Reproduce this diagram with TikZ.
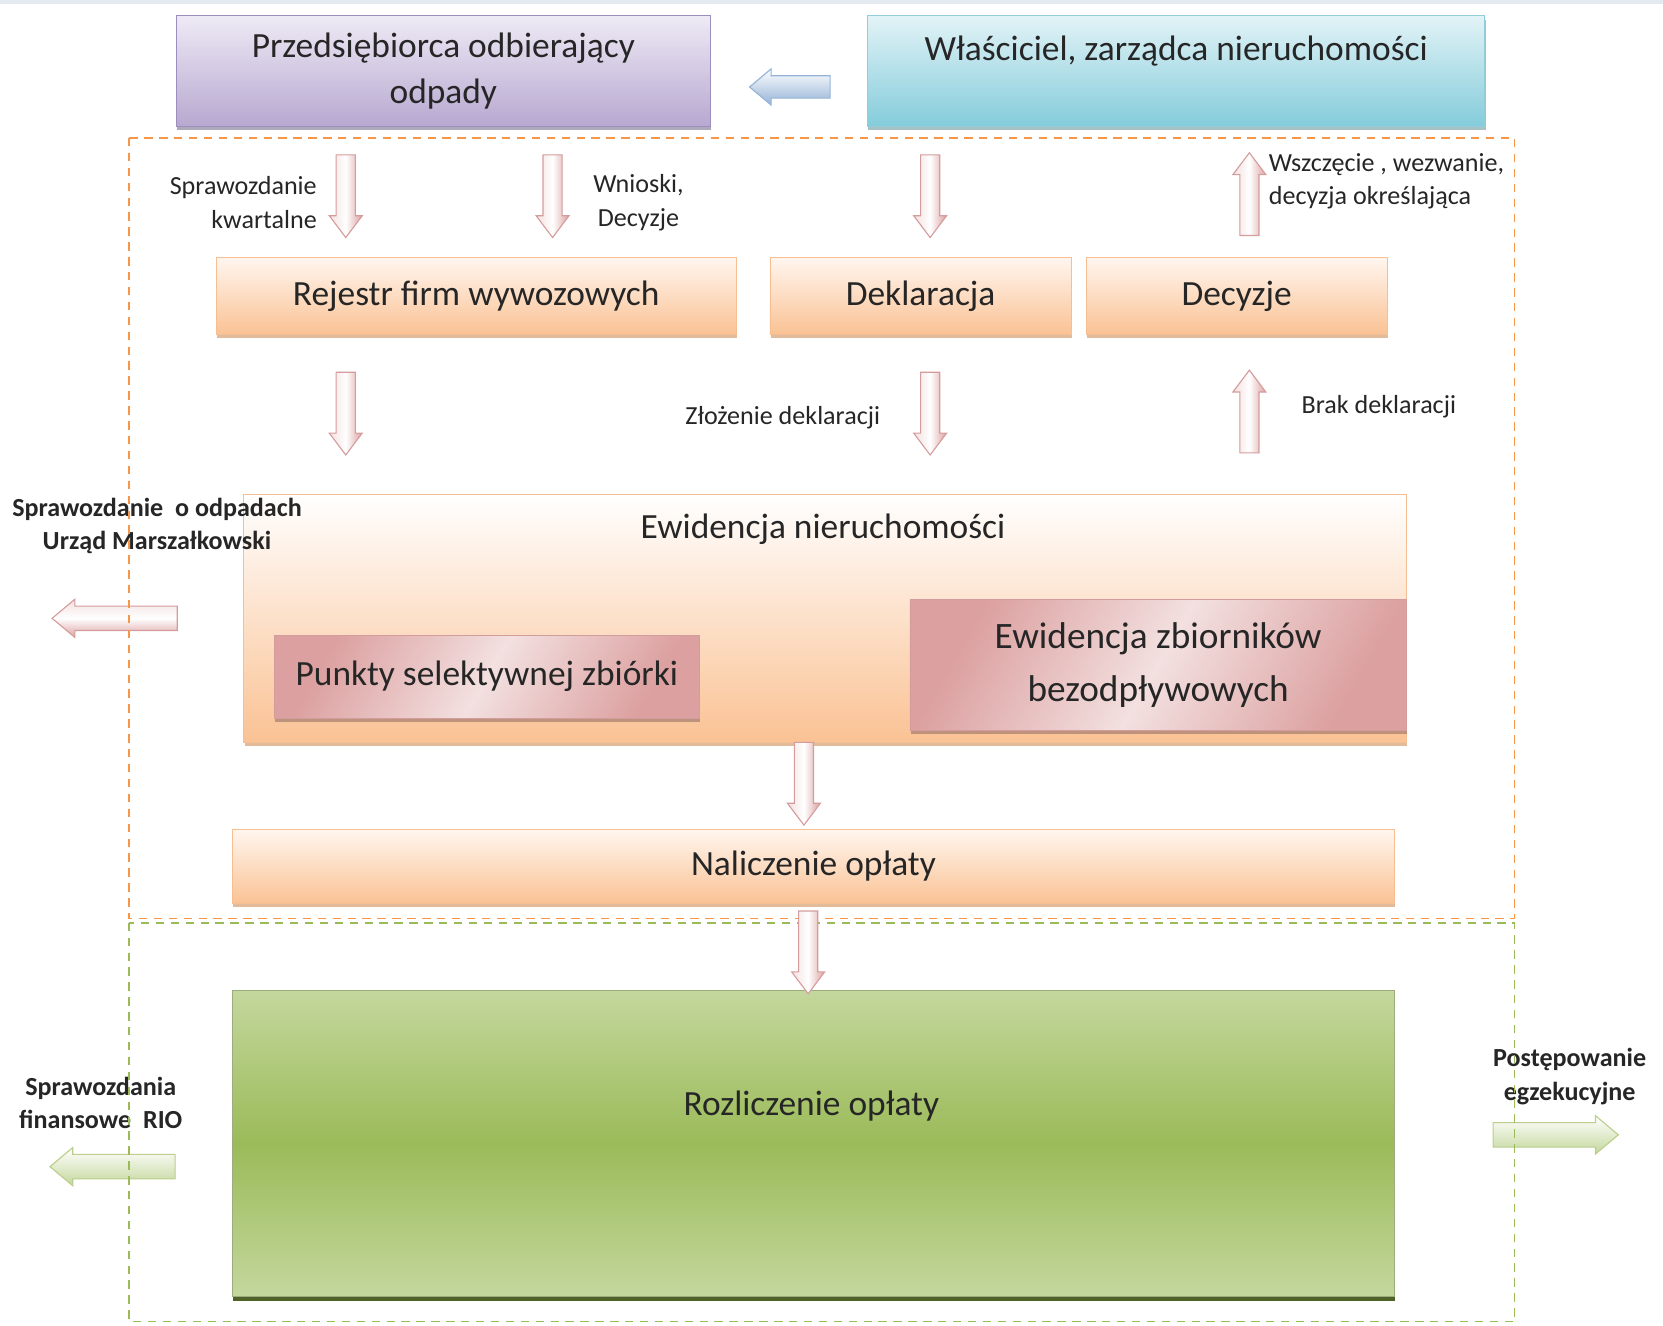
\documentclass[tikz,border=0pt]{standalone}
\usepackage{fontspec}
\setmainfont{Carlito}
\usetikzlibrary{shapes.arrows,shadows}

\definecolor{tekst}{HTML}{262626}
\definecolor{lawenda}{HTML}{B7A8D0}
\definecolor{lawendajasna}{HTML}{EEEAF5}
\definecolor{lawendaramka}{HTML}{9C8EBE}
\definecolor{turkus}{HTML}{84CCDA}
\definecolor{turkusjasny}{HTML}{E2F3F7}
\definecolor{turkusramka}{HTML}{92CDDC}
\definecolor{brzoskwinia}{HTML}{FAC294}
\definecolor{brzoskwiniajasna}{HTML}{FFF6EF}
\definecolor{brzoskwiniaramka}{HTML}{F5BE93}
\definecolor{roz}{HTML}{DCA0A0}
\definecolor{rozjasny}{HTML}{F3E0E0}
\definecolor{rozramka}{HTML}{D49C9C}
\definecolor{ziel}{HTML}{9BBB59}
\definecolor{zieljasna}{HTML}{C4D79D}
\definecolor{zielciemna}{HTML}{4F6228}
\definecolor{pomarancz}{HTML}{F79646}
\definecolor{niebieski}{HTML}{95B3D7}
\definecolor{pasek}{HTML}{E4EAF0}

\def\px{0.02cm}

\begin{document}
\begin{tikzpicture}[x=\px, y=-\px]
    \tikzstyle{box}=[rectangle, draw, line width=0.5pt, inner sep=0pt, align=center,
    	text=tekst, font=\fontsize{19}{25}\selectfont]
    \tikzstyle{fiolet box}=[box, draw=lawendaramka, top color=lawendajasna, bottom color=lawenda,
    	drop shadow={fill=lawendaramka!70!black, shadow xshift=0.4pt, shadow yshift=-2pt, opacity=0.55}]
    \tikzstyle{turkus box}=[box, draw=turkusramka, top color=turkusjasny, bottom color=turkus,
    	drop shadow={fill=turkus!70!black, shadow xshift=0.4pt, shadow yshift=-2pt, opacity=0.55}]
    \tikzstyle{pomarancz box}=[box, draw=brzoskwiniaramka, top color=brzoskwiniajasna, bottom color=brzoskwinia,
    	drop shadow={fill=pomarancz!80!black, shadow xshift=0.4pt, shadow yshift=-2pt, opacity=0.5}]
    \tikzstyle{roz box}=[box, draw=rozramka, left color=roz, right color=roz, middle color=rozjasny, shading angle=60,
    	drop shadow={fill=roz!60!black, shadow xshift=0.4pt, shadow yshift=-2pt, opacity=0.5}]
    \tikzstyle{ziel box}=[box, draw=zieljasna!80!black, top color=zieljasna, bottom color=zieljasna, middle color=ziel,
    	drop shadow={fill=zielciemna, shadow xshift=0.3pt, shadow yshift=-2.5pt, opacity=1}]
    \tikzstyle{napis}=[text=tekst, font=\fontsize{19}{25}\selectfont, inner sep=0pt]
    \tikzstyle{opis}=[text=tekst, font=\fontsize{14}{18}\selectfont, align=center, inner sep=0pt]
    \tikzstyle{opis pogrub}=[opis, font=\bfseries\fontsize{14}{18}\selectfont]
    \tikzstyle{strzalka}=[single arrow, draw=rozramka, line width=0.6pt, inner sep=0.17cm,
    	single arrow head extend=0.13cm, single arrow tip angle=74, minimum height=78*\px]
    \tikzstyle{w dol}=[strzalka, shape border rotate=270, left color=rozjasny, right color=roz, middle color=white]
    \tikzstyle{w gore}=[strzalka, shape border rotate=90, left color=rozjasny, right color=roz, middle color=white]
    \tikzstyle{boczna}=[single arrow, line width=0.6pt, inner sep=0.22cm,
    	single arrow head extend=0.13cm, single arrow tip angle=80, minimum height=118*\px]
    \tikzstyle{ramka}=[line width=1pt, dash pattern=on 4.5pt off 3.5pt]

    \useasboundingbox (0,0) rectangle (1568,1250);
    \fill[pasek] (0,0) rectangle (1568,4);

    % Gorny wiersz
    \node[fiolet box, minimum width=504*\px, minimum height=104*\px] (przed) at (418,67)
    	{Przedsiębiorca odbierający\\odpady};
    \node[turkus box, minimum width=582*\px, minimum height=104*\px] (wlasc) at (1109,67)
    	{Właściciel, zarządca nieruchomości\\\mbox{}};
    \node[boczna, shape border rotate=180, minimum height=76*\px, inner sep=0.2cm, draw=niebieski,
    	top color=white, bottom color=niebieski] (s0) at (751,82) {};

    % Rejestr, deklaracja, decyzje
    \node[pomarancz box, minimum width=490*\px, minimum height=73*\px] (rejestr) at (449,279) {Rejestr firm wywozowych};
    \node[pomarancz box, minimum width=284*\px, minimum height=73*\px] (deklar) at (868,279) {Deklaracja};
    \node[pomarancz box, minimum width=284*\px, minimum height=73*\px] (decyzje) at (1166,279) {Decyzje};

    % Ewidencja nieruchomosci z dwoma polami w srodku
    \node[box, minimum width=1096*\px, minimum height=234*\px, draw=brzoskwiniaramka, top color=white,
    	bottom color=brzoskwinia, drop shadow={fill=pomarancz!80!black, shadow xshift=0.4pt,
    	shadow yshift=-2pt, opacity=0.5}] (ewid) at (778,583) {};
    \node[napis] (ewid-t) at (776,499) {Ewidencja nieruchomości};
    \node[roz box, minimum width=401*\px, minimum height=78*\px] (punkty) at (459,638) {Punkty selektywnej zbiórki};
    \node[roz box, minimum width=468*\px, minimum height=124*\px, font=\fontsize{20}{28}\selectfont]
    	(zbiorn) at (1092,627) {Ewidencja zbiorników\\bezodpływowych};

    % Naliczenie i rozliczenie
    \node[pomarancz box, minimum width=1096*\px, minimum height=70*\px] (nalicz) at (767,817) {Naliczenie opłaty};
    \node[ziel box, minimum width=1096*\px, minimum height=288*\px] (rozlicz) at (767,1078) {};
    \node[napis] (rozlicz-t) at (765,1043) {Rozliczenie opłaty};

    % Strzalki miedzy polami
    \node[w dol] (a1) at (326,179) {};
    \node[w dol] (a2) at (521,179) {};
    \node[w dol] (a3) at (877,179) {};
    \node[w gore] (a4) at (1178,189) {};
    \node[w dol] (a5) at (326,384) {};
    \node[w dol] (a6) at (877,384) {};
    \node[w gore] (a7) at (1178,394) {};
    \node[w dol] (a8) at (758,733) {};

    % Opisy strzalek
    \node[opis, align=right, anchor=east] (l-kw) at (299,191) {Sprawozdanie\\kwartalne};
    \node[opis] (l-wn) at (602,191) {Wnioski,\\Decyzje};
    \node[opis, align=left, anchor=west] (l-wsz) at (1196,171) {Wszczęcie , wezwanie,\\decyzja określająca};
    \node[opis] (l-zl) at (738,394) {Złożenie deklaracji};
    \node[opis] (l-br) at (1300,383) {Brak deklaracji};

    % Strzalki na zewnatrz
    \node[boczna, shape border rotate=180, draw=rozramka, top color=rozjasny, bottom color=roz,
    	middle color=white] (s1) at (115,583) {};
    \node[boczna, shape border rotate=180, draw=ziel!70, top color=white, bottom color=zieljasna] (s2) at (113,1100) {};
    \node[boczna, draw=ziel!70, top color=white, bottom color=zieljasna] (s3) at (1460,1070) {};
    \node[opis pogrub] (l-odp) at (148,496) {Sprawozdanie \ o odpadach\\Urząd Marszałkowski};
    \node[opis pogrub] (l-rio) at (95,1040) {Sprawozdania\\finansowe \ RIO};
    \node[opis pogrub] (l-egz) at (1480,1015) {Postępowanie\\egzekucyjne};

    % Ramki przerywane
    \draw[ramka, pomarancz] (122,130) rectangle (1428,866);
    \draw[ramka, ziel] (122,870) rectangle (1428,1246);

    \node[w dol] (a9) at (762,892) {};
\end{tikzpicture}
\end{document}
